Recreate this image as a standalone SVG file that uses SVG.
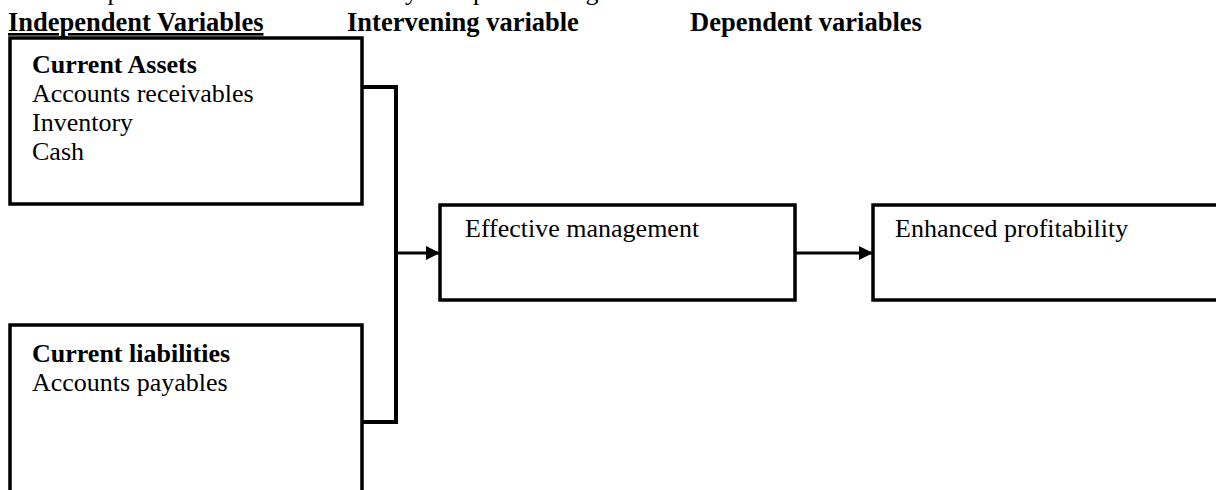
<svg xmlns="http://www.w3.org/2000/svg" width="1216" height="490" viewBox="0 0 1216 490">
<style>
.t{font-family:"Liberation Serif","Times New Roman",serif;font-size:26px;fill:#000}
.b{font-weight:bold}
.h{font-family:"Liberation Serif","Times New Roman",serif;font-size:26.5px;font-weight:bold;fill:#000}
.box{fill:none;stroke:#000;stroke-width:3.5}
.con{fill:none;stroke:#000;stroke-width:4}
.arr{fill:none;stroke:#000;stroke-width:3}
</style>
<defs>
<marker id="ah" viewBox="0 0 14 14" refX="14" refY="7" markerWidth="14" markerHeight="14" markerUnits="userSpaceOnUse" orient="auto">
<path d="M0,0 L14,7 L0,14 Z" fill="#000"/>
</marker>
</defs>
<rect width="1216" height="490" fill="#fff"/>
<text class="t" x="0" y="0" font-size="27" fill="#444">The conceptual framework for the study is depicted in figure 2.1 below</text>
<g id="headers">
<text class="h" x="8" y="31" text-decoration="underline">Independent Variables</text>
<text class="h" x="347" y="31">Intervening variable</text>
<text class="h" x="690" y="31">Dependent variables</text>
</g>
<g id="current-assets">
<rect class="box" x="10" y="38" width="352" height="166"/>
<text class="t b" x="32" y="73">Current Assets</text>
<text class="t" x="32" y="102">Accounts receivables</text>
<text class="t" x="32" y="131">Inventory</text>
<text class="t" x="32" y="160">Cash</text>
</g>
<g id="current-liabilities">
<path class="box" d="M10,495 V325 H362 V495"/>
<text class="t b" x="32" y="362">Current liabilities</text>
<text class="t" x="32" y="391">Accounts payables</text>
</g>
<g id="effective-management">
<rect class="box" x="440" y="205" width="355" height="95"/>
<text class="t" x="465" y="237">Effective management</text>
</g>
<g id="enhanced-profitability">
<path class="box" d="M1222,205 H873 V300 H1222"/>
<text class="t" x="895" y="237">Enhanced profitability</text>
</g>
<g id="connectors">
<path class="con" d="M362,87 H396 V422 H362"/>
<path class="arr" d="M396,253 H440" marker-end="url(#ah)"/>
<path class="arr" d="M795,253 H873" marker-end="url(#ah)"/>
</g>
</svg>
